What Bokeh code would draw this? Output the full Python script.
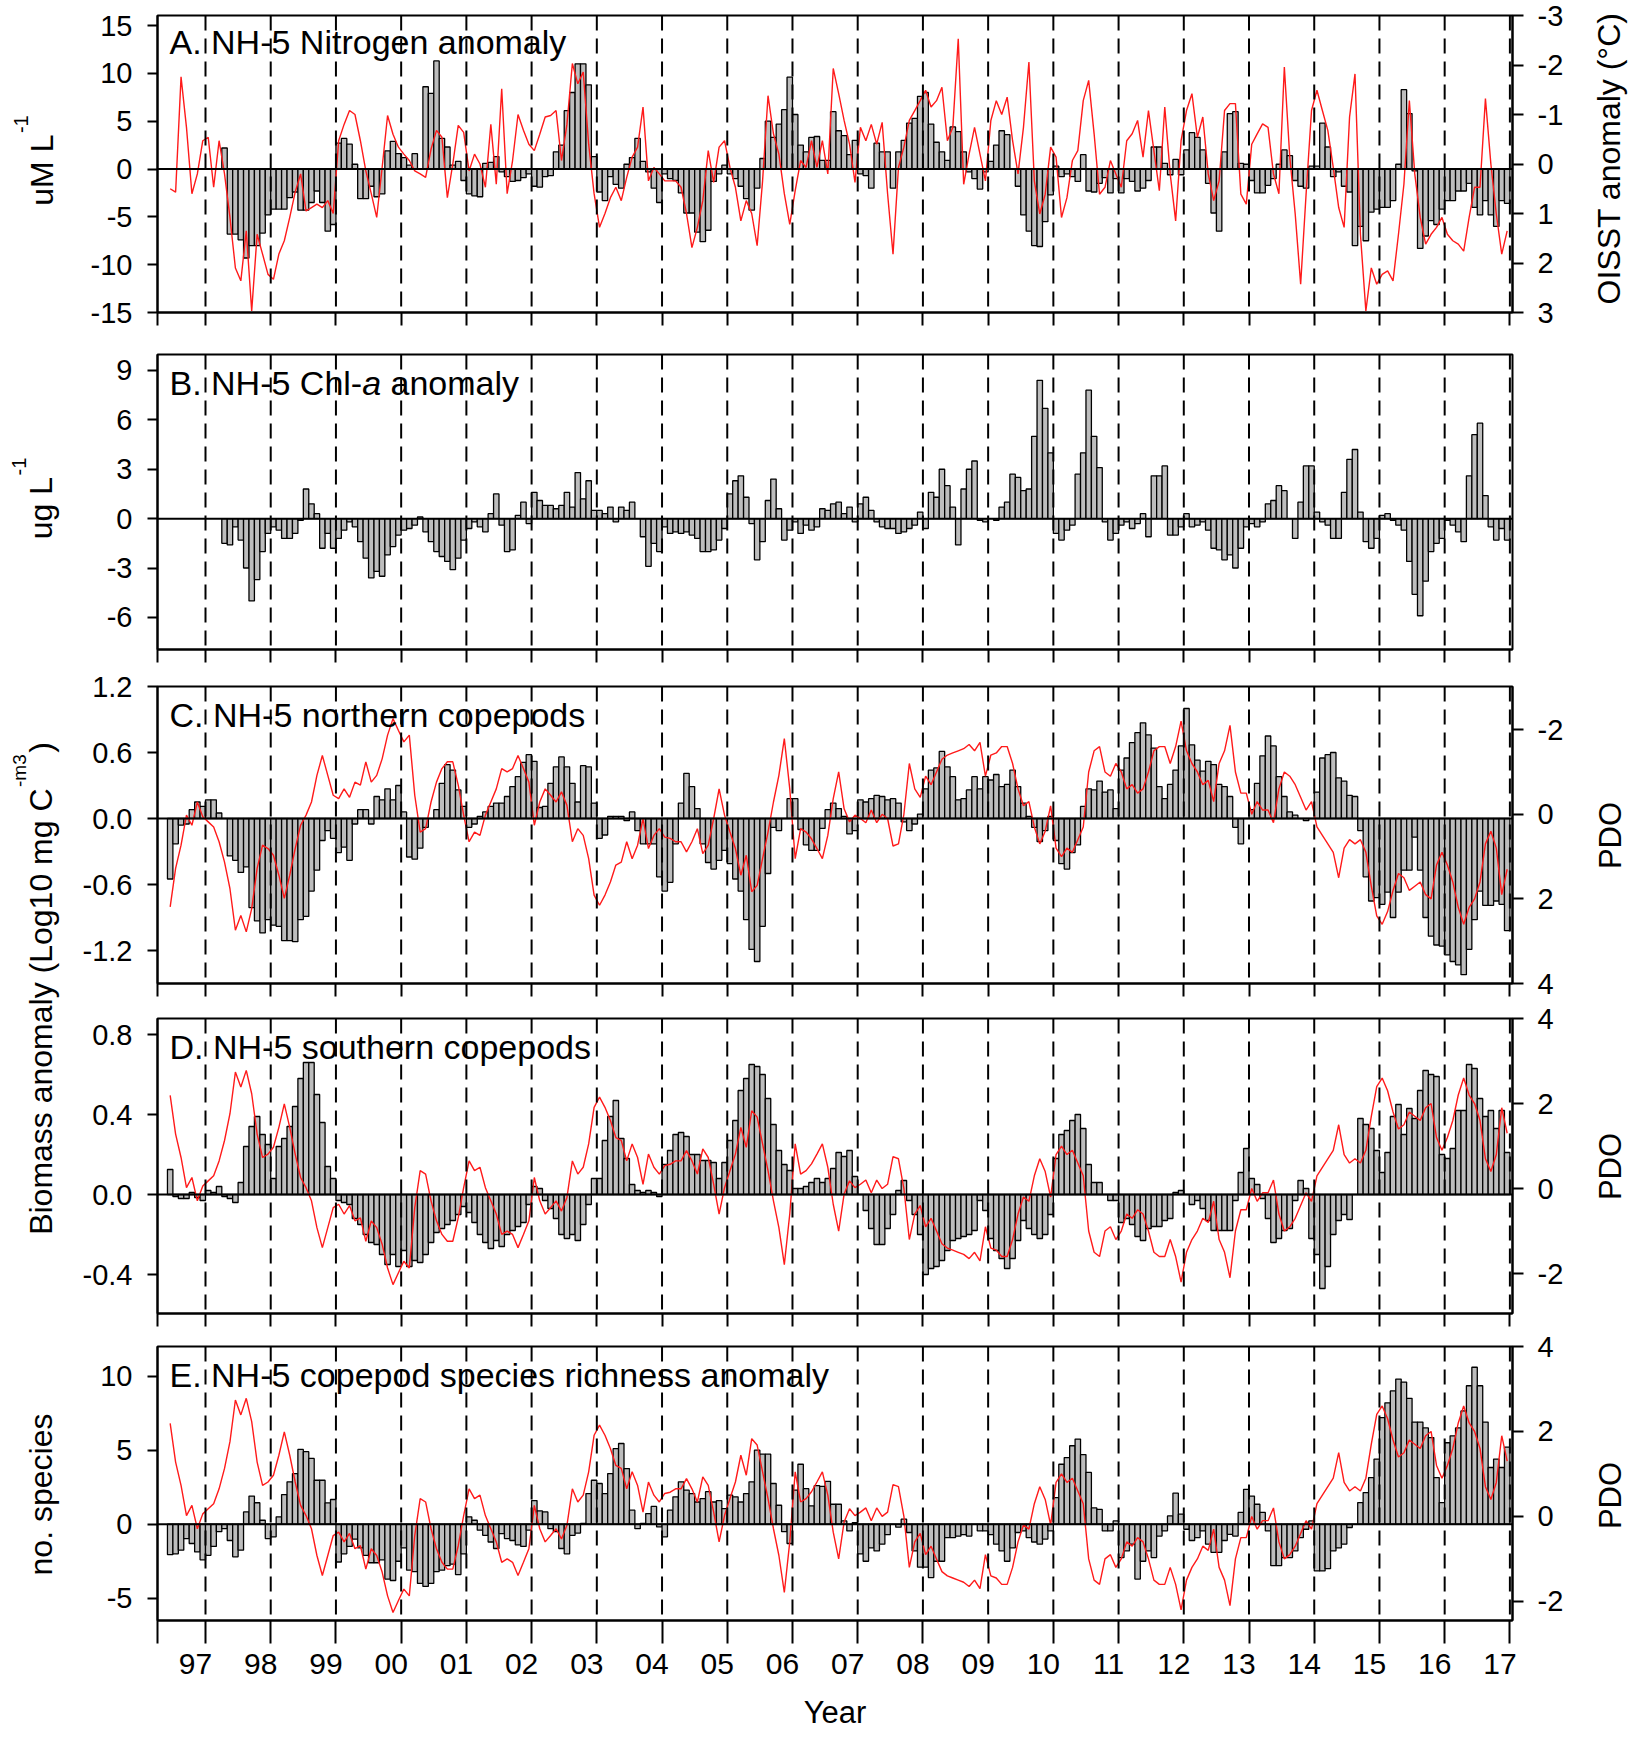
import math
from bokeh.plotting import figure
from bokeh.models import (Range1d, LinearAxis, FixedTicker, Span,
                          PrintfTickFormatter, CustomJSTickFormatter)
from bokeh.layouts import row, column
from bokeh.core.properties import value
from bokeh.embed import file_html
from bokeh.resources import INLINE

# ---------------------------------------------------------------- data
YEARS = list(range(1997, 2018))
YEAR_LABELS = ["97", "98", "99", "00", "01", "02", "03", "04", "05", "06", "07",
               "08", "09", "10", "11", "12", "13", "14", "15", "16", "17"]

# A. NH-5 nitrogen anomaly (uM/L), monthly from Apr 1997
nitrogen = [
    2.2, -6.8, -6.8, -7.4, -9.3, -8.0, -8.0, -6.7, -4.8,
    -4.2, -4.2, -4.2, -3.0, -2.4, -4.3, -4.3, -3.5, -2.3, -3.5, -6.5, -5.8,
    2.7, 3.2, 2.6, 0.5, -3.1, -3.1, -1.8, -2.9, -2.6, 1.9, 2.9, 1.6,
    1.2, 0.4, 1.6, 0.0, 8.6, 7.9, 11.3, 3.2, 2.3, 0.4, 0.8, -1.2,
    -2.6, -2.8, -2.9, 0.6, 0.7, 1.3, -0.3, -0.8, -1.3, -1.2, -0.9, -0.5,
    -1.8, -1.9, -0.8, -0.7, 1.8, 2.5, 6.1, 8.0, 11.0, 11.0, 8.8, 1.3,
    -2.4, -3.3, -0.8, -1.6, -2.0, 0.5, 1.2, 3.2, 0.8, -0.3, -2.0, -3.5,
    -0.5, -1.0, -1.2, -2.5, -4.6, -4.6, -6.6, -7.6, -6.4, -1.3, -0.5, 0.4,
    -0.5, -1.0, -1.8, -3.1, -4.3, -2.0, 1.1, 5.0, 3.3, 4.7, 6.2, 9.6,
    5.7, 2.5, 1.8, 3.3, 3.4, 0.9, 0.9, 6.0, 4.0, 3.5, 1.5, 3.0,
    -0.5, -0.7, -2.0, 2.7, 1.8, 1.8, -2.0, 1.8, 3.0, 4.8, 5.3, 7.6,
    8.0, 4.7, 2.8, 1.8, 0.9, 4.4, 3.9, 1.8, -0.3, -1.0, -2.1, -0.3,
    0.8, 2.5, 4.0, 3.6, 0.0, -1.8, -4.8, -6.5, -8.0, -8.1, -5.5, -2.7,
    0.3, -0.8, -0.5, -0.8, -1.3, 1.5, -2.3, -2.4, -1.5, -0.9, -2.5, -1.0,
    -2.5, -1.0, -1.3, -2.3, -2.0, -1.2, 2.3, 2.3, 0.6, -0.6, 1.0, -0.6,
    2.0, 3.8, 3.3, 2.0, -1.5, -4.6, -6.5, 1.8, 5.8, 6.0, 0.6, 0.5,
    -1.2, -2.5, -2.5, -1.7, -1.0, 0.5, 2.0, 1.4, -1.2, -1.8, -2.0, 0.3,
    0.3, 4.8, 2.3, -0.8, -0.3, -1.8, -2.4, -8.0, -6.0, -7.5, -4.5, -4.2,
    -4.0, -4.0, -3.3, 0.5, 8.3, 5.8, -0.2, -8.3, -7.0, -5.4, -5.8, -4.2,
    -3.3, -3.3, -2.3, -2.3, -1.5, -4.0, -4.8, -3.3, -4.8, -6.0, -3.3, -3.6,
]

# OISST anomaly (deg C), monthly from Jun 1996
oisst = [
    0.5, 0.57, -1.76, -0.74, 0.6, 0.2, -0.47,
    -0.54, 0.47, -0.47, 0.2, 1.08, 2.1, 2.36, 1.35, 2.97, 1.42, 1.82, 2.23,
    2.33, 1.82, 1.55, 1.08, 0.57, 0.2, 0.95, 0.88, 0.81, 0.88, 0.74, 1.0,
    -0.47, -0.8, -1.08, -1.0, -0.47, 0.14, 0.6, 1.08, 0.07, -0.98, -0.6, -0.34,
    -0.2, -0.07, 0.14, 0.2, 0.27, -0.3, -0.68, -0.54, 0.68, 0.0, -0.78, -0.64,
    0.14, -0.2, 0.0, 0.47, -0.8, 0.41, -1.52, 0.6, -0.07, -1.0, -0.68, -0.4,
    -0.27, -0.6, -0.95, -0.98, -1.08, -0.07, -0.8, -2.03, -1.62, -1.86, -0.4, 0.6,
    1.28, 1.0, 0.68, 0.47, 0.74, 0.27, -0.14, -0.34, -1.15, 0.34, 0.07, 0.2,
    0.34, 0.34, 0.34, 0.47, 1.0, 1.69, 1.28, 0.74, -0.27, 0.37, -0.34, -0.47,
    0.07, 0.47, 1.15, 0.74, 1.0, 1.65, 0.34, -1.38, -0.61, -0.2, 0.6, 1.22,
    0.54, -0.07, 0.07, -0.47, 0.07, -0.47, 0.2, -1.93, -1.42, -0.88, -0.4, 0.37,
    -0.74, -0.47, -0.8, -0.4, -0.84, 0.6, 1.82, 0.07, -0.34, -0.88, -1.08, -1.28,
    -1.49, -1.15, -1.28, -1.55, -0.47, -0.74, -2.53, 0.41, -0.2, -0.74, -0.2, 0.34,
    -0.88, -1.28, -1.0, -1.35, -0.47, 0.2, -0.74, -2.06, 0.34, 1.01, 0.61, -0.34,
    -0.14, 1.08, 0.68, -0.07, -0.27, -1.28, -1.69, -0.61, 0.61, 0.47, -0.07, 0.2,
    0.47, -0.47, -0.61, -0.88, -0.14, -1.08, -0.27, 0.54, -1.15, 0.2, 1.15, -0.47,
    -1.08, -1.42, -0.54, -0.95, 0.2, 0.74, 0.34, -1.08, -1.22, -1.22, 0.61, 0.81,
    -0.4, -0.61, -0.81, -0.74, 0.2, 0.6, -1.96, -0.14, 1.01, 2.43, 0.61, -1.08,
    -1.49, -1.08, -0.68, 0.07, 0.88, 1.28, -0.95, -1.82, 1.42, 2.97, 2.1, 2.43,
    2.23, 2.16, 2.36, 1.42, 0.41, -1.28, 0.2, 1.08, 1.62, 1.42, 1.28, 1.08,
    1.42, 1.55, 1.62, 1.76, 1.08, 0.47, 0.47, -1.32, 0.0, 1.01, 1.82, 1.35,
]

# B. NH-5 Chl-a anomaly (ug/L), monthly from Apr 1997
chla = [
    -1.5, -1.6, -0.5, -1.3, -3.0, -5.0, -3.7, -2.0, -0.9,
    -0.5, -0.7, -1.2, -1.2, -0.9, -0.1, 1.8, 0.9, 0.3, -1.8, -0.9, -1.8,
    -1.2, -0.7, -0.2, -0.5, -1.4, -2.4, -3.6, -3.2, -3.5, -2.2, -1.7, -1.0,
    -0.7, -0.6, -0.4, 0.1, -0.8, -1.4, -2.0, -2.3, -2.6, -3.1, -2.4, -1.3,
    -0.6, -0.2, -0.5, -0.8, 0.3, 1.5, -0.4, -2.0, -1.9, 0.2, 1.0, -0.3,
    1.6, 1.1, 0.8, 0.8, 0.6, 0.8, 1.6, 0.7, 2.8, 1.2, 2.3, 0.5,
    0.5, 0.3, 0.7, -0.2, 0.7, 0.5, 1.0, 0.0, -1.1, -2.9, -1.5, -2.0,
    -0.5, -0.9, -0.8, -0.9, -0.8, -1.0, -1.2, -2.0, -2.0, -1.9, -1.3, -0.6,
    1.5, 2.3, 2.6, 1.3, -0.3, -2.5, -1.4, 1.1, 2.4, 0.6, -1.3, -0.7,
    -0.2, -0.9, -0.4, -0.7, -0.5, 0.6, 0.5, 0.9, 1.0, 0.3, 0.7, -0.2,
    0.9, 1.3, 0.5, -0.2, -0.5, -0.6, -0.6, -0.9, -0.8, -0.6, -0.4, 0.4,
    -0.6, 1.6, 1.3, 3.0, 2.0, 0.7, -1.6, 1.8, 3.0, 3.5, -0.1, -0.2,
    0.0, -0.1, 0.7, 1.0, 2.7, 2.5, 1.7, 1.8, 5.0, 8.4, 6.7, 4.0,
    -0.9, -1.3, -0.7, -0.4, 2.7, 4.0, 7.8, 5.0, 3.1, -0.2, -1.3, -0.9,
    -0.4, -0.2, -0.6, -0.3, 0.3, -1.1, 2.6, 2.6, 3.2, -1.0, -1.0, -0.5,
    0.3, -0.5, -0.4, -0.2, -0.7, -1.8, -1.9, -2.5, -2.2, -3.0, -1.8, -0.5,
    -0.3, -0.5, -0.2, 0.9, 1.1, 2.0, 1.7, 0.0, -1.2, 1.0, 3.2, 3.2,
    0.4, -0.2, -0.4, -1.2, -1.2, 1.6, 3.6, 4.2, 0.4, -1.4, -1.8, -1.2,
    0.2, 0.3, -0.1, -0.4, -0.7, -2.6, -4.6, -5.9, -3.8, -2.0, -1.5, -1.2,
    -0.1, -0.4, -0.8, -1.4, 2.6, 5.1, 5.8, 1.4, -0.5, -1.3, -0.6, -1.3,
]

# C. NH-5 northern copepods biomass anomaly, monthly from Jun 1996
northern = [
    -0.55, -0.23, -0.06, -0.05, 0.08, 0.15, 0.11,
    0.17, 0.17, 0.05, 0.0, -0.34, -0.38, -0.49, -0.44, -0.81, -0.93, -1.04, -0.92,
    -0.97, -0.98, -1.11, -1.11, -1.12, -0.92, -0.89, -0.66, -0.47, -0.2, -0.11, -0.18,
    -0.31, -0.26, -0.38, -0.05, 0.08, 0.08, -0.05, 0.2, 0.17, 0.27, 0.17, 0.3,
    0.06, -0.35, -0.37, -0.27, -0.08, 0.0, 0.08, 0.32, 0.49, 0.44, 0.26, 0.11,
    -0.08, -0.05, 0.02, 0.06, 0.11, 0.14, 0.14, 0.2, 0.29, 0.38, 0.51, 0.58,
    0.52, 0.1, 0.11, 0.32, 0.47, 0.56, 0.47, 0.32, 0.15, 0.48, 0.47, 0.14,
    -0.18, -0.15, 0.02, 0.02, 0.02, -0.02, 0.06, -0.11, -0.23, -0.23, -0.23, -0.53,
    -0.66, -0.58, -0.23, 0.14, 0.41, 0.29, 0.09, -0.23, -0.4, -0.46, -0.38, -0.29,
    -0.41, -0.55, -0.66, -0.92, -1.19, -1.3, -0.98, -0.5, -0.08, -0.11, 0.0, 0.18,
    0.18, -0.1, -0.24, -0.29, -0.29, -0.09, 0.08, 0.14, 0.09, 0.02, -0.14, -0.11,
    0.17, 0.15, 0.18, 0.21, 0.2, 0.17, 0.18, 0.14, -0.03, -0.11, -0.05, 0.04,
    0.27, 0.44, 0.46, 0.61, 0.47, 0.38, 0.17, 0.18, 0.26, 0.38, 0.27, 0.38,
    0.35, 0.4, 0.29, 0.31, 0.44, 0.29, 0.14, 0.02, -0.08, -0.21, -0.11, 0.02,
    -0.2, -0.41, -0.46, -0.31, -0.24, 0.11, 0.27, 0.26, 0.34, 0.24, 0.26, 0.09,
    0.44, 0.55, 0.69, 0.78, 0.87, 0.76, 0.64, 0.29, 0.18, 0.31, 0.44, 0.66,
    1.0, 0.67, 0.53, 0.43, 0.52, 0.49, 0.31, 0.29, 0.2, -0.08, -0.23, 0.0,
    0.08, 0.32, 0.57, 0.75, 0.66, 0.38, 0.2, 0.06, 0.03, 0.0, -0.02, 0.0,
    0.24, 0.55, 0.58, 0.6, 0.37, 0.34, 0.21, 0.2, -0.11, -0.53, -0.75, -0.72,
    -0.78, -0.67, -0.9, -0.67, -0.47, -0.47, -0.17, -0.47, -0.9, -1.07, -1.15, -1.16,
    -1.24, -1.3, -1.33, -1.42, -1.19, -0.92, -0.66, -0.79, -0.79, -0.75, -0.78, -1.02,
]

# D. NH-5 southern copepods biomass anomaly, monthly from Jun 1996
southern = [
    0.125, -0.01, -0.02, -0.02, 0.01, -0.015, -0.03,
    0.02, 0.01, 0.04, -0.01, -0.02, -0.04, 0.06, 0.24, 0.34, 0.39, 0.3, 0.25,
    0.08, 0.24, 0.28, 0.34, 0.44, 0.58, 0.66, 0.66, 0.5, 0.36, 0.14, 0.08,
    -0.03, -0.04, -0.05, -0.12, -0.15, -0.2, -0.24, -0.25, -0.3, -0.35, -0.3, -0.36,
    -0.28, -0.36, -0.33, -0.34, -0.3, -0.24, -0.19, -0.17, -0.15, -0.13, -0.1, -0.06,
    -0.09, -0.14, -0.2, -0.24, -0.27, -0.23, -0.26, -0.2, -0.18, -0.16, -0.14, -0.05,
    0.04, 0.03, -0.03, -0.07, -0.12, -0.2, -0.22, -0.2, -0.23, -0.15, -0.05, 0.08,
    0.08, 0.27, 0.39, 0.47, 0.28, 0.18, 0.05, 0.02, 0.01, 0.02, 0.01, -0.01,
    0.15, 0.22, 0.3, 0.31, 0.29, 0.2, 0.2, 0.17, 0.17, 0.16, 0.08, 0.16,
    0.27, 0.37, 0.52, 0.58, 0.65, 0.64, 0.6, 0.48, 0.35, 0.22, 0.15, 0.12,
    0.03, 0.03, 0.04, 0.06, 0.08, 0.06, 0.08, 0.13, 0.21, 0.19, 0.22, 0.09,
    0.0, -0.08, -0.17, -0.25, -0.25, -0.17, -0.1, 0.02, 0.07, -0.03, -0.1, -0.2,
    -0.4, -0.37, -0.36, -0.33, -0.28, -0.23, -0.22, -0.21, -0.2, -0.18, -0.03, -0.08,
    -0.22, -0.28, -0.32, -0.37, -0.32, -0.23, -0.13, -0.17, -0.2, -0.22, -0.2, -0.1,
    0.18, 0.3, 0.32, 0.37, 0.4, 0.33, 0.15, 0.06, 0.06, 0.0, -0.03, -0.03,
    -0.14, -0.12, -0.15, -0.21, -0.23, -0.17, -0.16, -0.16, -0.13, -0.12, 0.01, 0.02,
    0.0, -0.05, -0.03, -0.07, -0.13, -0.18, -0.18, -0.18, -0.18, -0.03, 0.11, 0.23,
    0.08, 0.05, -0.02, -0.12, -0.24, -0.22, -0.18, -0.17, -0.03, 0.07, 0.03, -0.22,
    -0.3, -0.47, -0.36, -0.2, -0.13, -0.1, -0.125, 0.0, 0.38, 0.35, 0.33, 0.22,
    0.11, 0.21, 0.39, 0.45, 0.3, 0.43, 0.38, 0.52, 0.62, 0.6, 0.59, 0.2,
    0.18, 0.23, 0.42, 0.42, 0.65, 0.63, 0.48, 0.39, 0.42, 0.33, 0.42, 0.21,
]

# E. NH-5 copepod species richness anomaly, monthly from Jun 1996
richness = [
    -2.05, -2.0, -1.75, -0.97, -1.3, -1.87, -2.4,
    -2.1, -1.5, -0.5, -0.3, -1.1, -2.2, -1.75, 0.83, 1.9, 1.45, 0.27, -0.97,
    -0.85, 0.5, 2.0, 2.86, 3.42, 5.05, 4.9, 4.44, 2.97, 2.97, 1.44, 1.67,
    -2.55, -2.0, -1.5, -1.0, -1.6, -2.1, -2.6, -2.6, -2.4, -3.7, -3.8, -2.5,
    -1.6, -3.1, -3.2, -4.0, -4.2, -4.0, -3.2, -3.1, -2.8, -2.7, -3.4, -2.0,
    0.5, 0.27, -0.4, -0.75, -1.2, -1.64, -0.63, -0.97, -1.1, -1.4, -1.5, -0.4,
    1.6, 0.9, 0.83, -0.3, -0.5, -1.64, -2.0, -0.75, -0.6, 0.05, 2.07, 2.97,
    2.75, 2.07, 3.42, 5.1, 5.45, 3.76, 0.95, -0.3, 0.05, 0.72, 1.2, -0.18,
    -0.85, 0.95, 1.85, 2.86, 2.3, 2.07, 1.5, 1.73, 2.2, 1.5, 1.6, 1.05,
    1.96, 1.85, 1.5, 2.07, 2.86, 5.0, 4.73, 4.73, 2.75, 1.28, -0.5, -1.3,
    2.3, 4.05, 2.4, 1.24, 2.6, 2.55, 2.9, 1.35, 1.35, 0.22, -0.45, 0.1,
    -2.0, -2.5, -1.6, -1.8, -1.35, -0.7, 0.0, -0.2, 0.34, -0.56, -1.8, -2.9,
    -2.9, -3.6, -2.5, -2.5, -0.9, -0.9, -0.8, -0.7, -0.8, 0.0, -0.45, -0.45,
    -0.7, -1.35, -1.8, -2.5, -1.6, -0.56, -0.45, -0.9, -1.2, -1.35, -1.0, -0.45,
    1.8, 4.05, 4.5, 5.3, 5.75, 4.7, 3.5, 1.1, 1.0, -0.45, -0.45, 0.22,
    -2.25, -1.8, -1.35, -3.7, -2.5, -1.8, -2.25, -0.8, -0.45, 0.56, 2.1, 0.68,
    -0.34, -1.1, -0.9, -0.45, -1.35, -1.9, -1.9, -1.1, -0.68, -0.8, 0.8, 2.36,
    1.9, 1.35, 0.8, -0.45, -2.8, -2.8, -2.25, -2.25, -1.8, -0.9, -0.34, 0.22,
    -3.15, -3.15, -3.0, -1.8, -1.6, -1.35, -0.22, 0.0, 1.46, 2.14, 3.15, 4.4,
    7.2, 8.2, 9.0, 9.8, 9.6, 8.5, 6.9, 6.9, 6.5, 5.85, 3.15, 1.46,
    5.5, 5.97, 6.5, 7.65, 9.35, 10.6, 9.35, 6.9, 3.83, 4.4, 3.83, 5.2,
]

# PDO index, monthly from Jun 1996
pdo = [
    2.19, 1.28, 0.73, 0.02, 0.26, -0.29, 0.06,
    0.18, 0.3, 0.65, 1.13, 1.76, 2.74, 2.39, 2.78, 2.23, 1.28, 0.73, 0.81,
    0.97, 1.44, 1.99, 1.44, 0.81, 0.26, 0.02, -0.29, -0.92, -1.39, -0.92, -0.45,
    -0.37, -0.6, -0.4, -0.76, -0.69, -1.24, -0.76, -0.92, -1.31, -1.87, -2.26, -1.98,
    -1.71, -1.87, -0.45, 0.42, 0.34, -0.29, -0.76, -1.08, -1.24, -1.24, -0.69, 0.02,
    0.65, 0.42, 0.5, 0.02, -0.29, -0.6, -1.08, -1.0, -1.08, -1.39, -1.08, -0.76,
    0.26, -0.29, -0.6, -0.45, -0.29, -0.53, -0.21, 0.65, 0.34, 0.5, 1.05, 1.91,
    2.15, 1.91, 1.6, 1.2, 1.13, 0.65, 1.05, 0.73, 0.1, 0.81, 0.5, 0.34,
    0.54, 0.57, 0.65, 0.65, 0.89, 0.65, 0.34, 0.93, 0.73, 0.1, -0.6, 0.02,
    0.42, 0.81, 1.44, 0.97, 1.83, 1.68, 1.05, 0.42, -0.29, -0.92, -1.79, -0.6,
    1.05, 0.34, 0.42, 0.58, 0.81, 1.05, 0.5, -0.37, -1.0, -0.13, 0.18, 0.02,
    0.1, 0.2, -0.1, 0.2, 0.0, 0.1, 0.75, 0.7, 0.0, -1.2, -0.6, -0.4,
    -0.9, -0.7, -1.0, -1.3, -1.4, -1.45, -1.5, -1.55, -1.65, -1.5, -1.7, -0.9,
    -1.4, -1.45, -1.6, -1.6, -1.2, -0.6, -0.2, -0.3, 0.3, 0.7, 0.4, -0.2,
    0.8, 1.0, 0.8, 0.9, 0.6, 0.3, -1.0, -1.5, -1.6, -1.0, -0.9, -1.2,
    -1.0, -0.6, -0.7, -0.5, -0.6, -1.0, -1.5, -1.6, -1.6, -1.2, -1.6, -2.2,
    -1.5, -1.2, -1.0, -0.7, -0.8, -0.3, -1.2, -1.5, -2.1, -1.0, -0.5, -0.5,
    0.0, -0.3, -0.1, -0.1, 0.2, -0.6, -1.0, -0.9, -0.7, -0.4, -0.1, -0.3,
    0.3, 0.5, 0.7, 0.9, 1.5, 0.8, 0.6, 0.7, 0.6, 0.9, 1.7, 2.4,
    2.6, 2.3, 1.8, 1.4, 1.5, 1.8, 1.7, 1.6, 1.9, 2.0, 1.2, 0.9,
    1.2, 1.6, 2.2, 2.6, 2.2, 2.0, 1.6, 0.7, 0.4, 0.8, 1.9, 1.3,
]

TITLES = ["A. NH-5 Nitrogen anomaly", "B. NH-5 Chl-", "a", "anomaly",
          "C. NH-5 northern copepods", "D. NH-5 southern copepods",
          "E. NH-5 copepod species richness anomaly"]

# ---------------------------------------------------------------- layout
FONT = "Liberation Sans"
X0, X1 = 1996.264, 2017.04
FRAME_W = 1355
PX_PER_YR = FRAME_W / (X1 - X0)
LABEL_SHIFT = 0.153
BAR_FILL = "#bdbdbd"
RED = "#ff1a1a"
PAGE_H = 1740
MID = 0.3465   # em offset from baseline to middle of the text box

ADV = {' ': .278, '-': .333, '.': .278, '(': .333, ')': .333, '\u00b0': .4,
       'A': .667, 'B': .667, 'C': .722, 'D': .722, 'E': .667, 'H': .722,
       'I': .278, 'L': .556, 'M': .833, 'N': .722, 'O': .778, 'P': .667,
       'S': .667, 'T': .611, 'a': .556, 'c': .5, 'd': .556, 'e': .556,
       'g': .556, 'h': .556, 'i': .222, 'l': .222, 'm': .833, 'n': .556,
       'o': .556, 'p': .556, 'r': .333, 's': .5, 't': .278, 'u': .556, 'y': .5}


def tw(s, size):
    return sum(ADV.get(c, 0.556) for c in s) * size


def months(start_year, start_month, n):
    return [start_year + (start_month - 1 + i + 0.5) / 12.0 for i in range(n)]


def style_axis(ax, size="29px"):
    ax.axis_line_width = 2
    ax.axis_line_color = "black"
    ax.major_tick_line_width = 2
    ax.major_tick_line_color = "black"
    ax.major_tick_in = 0
    ax.minor_tick_line_color = None
    ax.major_label_text_font = FONT
    ax.major_label_text_font_size = size
    ax.major_label_text_color = "black"


def make_panel(height, tb, bb, yr, lticks, lfmt="%d", last=False):
    p = figure(width=1520, height=height, x_range=Range1d(X0, X1),
               y_range=Range1d(*yr), output_backend="svg",
               toolbar_location=None, min_border_left=92,
               min_border_right=73, min_border_top=tb, min_border_bottom=bb)
    p.grid.visible = False
    p.outline_line_color = "black"
    p.outline_line_width = 2
    p.outline_line_alpha = 1
    p.background_fill_color = "white"
    p.border_fill_color = "white"
    ya = p.yaxis[0]
    ya.ticker = FixedTicker(ticks=lticks)
    style_axis(ya)
    ya.major_tick_out = 10
    ya.major_label_standoff = 15
    ya.formatter = PrintfTickFormatter(format=lfmt)
    xa = p.xaxis[0]
    style_axis(xa, "30px")
    if not last:
        xa.ticker = FixedTicker(ticks=[X0] + YEARS)
        xa.major_tick_out = 13
        xa.major_label_text_font_size = "1px"
        xa.major_label_text_color = None
        xa.major_label_standoff = 0
        xa.formatter = CustomJSTickFormatter(code="return '';")
    else:
        xa.ticker = FixedTicker(ticks=[y - LABEL_SHIFT for y in YEARS],
                                minor_ticks=[X0] + YEARS)
        xa.major_tick_out = 0
        xa.major_tick_line_color = None
        xa.minor_tick_out = 23
        xa.minor_tick_in = 0
        xa.minor_tick_line_color = "black"
        xa.minor_tick_line_width = 2
        xa.formatter = CustomJSTickFormatter(
            args=dict(labels=YEAR_LABELS, first=YEARS[0], shift=LABEL_SHIFT),
            code="const i = Math.round(tick + shift) - first;"
                 "return (i >= 0 && i < labels.length) ? labels[i] : '';")
        xa.major_label_standoff = 10
        xa.axis_label = "Year"
        xa.axis_label_text_font = FONT
        xa.axis_label_text_font_size = "31px"
        xa.axis_label_text_font_style = "normal"
        xa.axis_label_text_color = "black"
        xa.axis_label_standoff = 18
    for y in YEARS:
        p.add_layout(Span(location=y, dimension="height", line_color="black",
                          line_width=2, line_dash="15 8"))
    p.add_layout(Span(location=0, dimension="width", line_color="black",
                      line_width=2))
    return p


def add_right(p, rng, ticks):
    p.extra_y_ranges = {"r": Range1d(*rng)}
    ax = LinearAxis(y_range_name="r", ticker=FixedTicker(ticks=ticks))
    style_axis(ax)
    ax.formatter = PrintfTickFormatter(format="%d")
    ax.major_tick_out = 11
    ax.major_label_standoff = 14
    p.add_layout(ax, "right")


def bars(p, xs, vals):
    p.vbar(x=xs, top=vals, bottom=0, width=1 / 12.0, fill_color=BAR_FILL,
           line_color="black", line_width=1.3)


def red_line(p, xs, vals):
    p.line(xs, vals, y_range_name="r", line_color=RED, line_width=1.4)


def title(p, yr, frame_h, d_px, parts):
    # d_px: distance of the text middle below the frame top
    top, bot = yr[1], yr[0]
    ty = top - d_px * (top - bot) / frame_h
    xpx = 12.0
    for text, style, adv in parts:
        p.text(x=[X0 + xpx / PX_PER_YR], y=[ty], text=[text],
               text_font=value(FONT), text_font_size="34px",
               text_font_style=style, text_baseline="middle",
               text_align="left", text_color="black")
        xpx += adv


x_bio = months(1996, 6, len(northern))
x_nut = months(1997, 4, len(nitrogen))
x_sst = months(1996, 6, len(oisst))
x_pdo = months(1996, 6, len(pdo))

# A
yrA = (-15, 16.05)
pA = make_panel(333, 15, 21, yrA, [-15, -10, -5, 0, 5, 10, 15])
add_right(pA, (3, -3), [-3, -2, -1, 0, 1, 2, 3])
bars(pA, x_nut, nitrogen)
red_line(pA, x_sst, oisst)
title(pA, yrA, 297, 26, [(TITLES[0], "normal", 0)])

# B
yrB = (-7.95, 9.97)
pB = make_panel(333, 21, 17, yrB, [-6, -3, 0, 3, 6, 9])
bars(pB, months(1997, 4, len(chla)), chla)
wb1 = tw(TITLES[1], 34)
wb2 = tw(TITLES[2] + " ", 34)
title(pB, yrB, 295, 28, [(TITLES[1], "normal", wb1), (TITLES[2], "italic", wb2),
                         (TITLES[3], "normal", 0)])

# C
yrC = (-1.5, 1.2)
pC = make_panel(334, 20, 17, yrC, [-1.2, -0.6, 0.0, 0.6, 1.2], "%.1f")
add_right(pC, (4, -3.02), [-2, 0, 2, 4])
bars(pC, x_bio, northern)
red_line(pC, x_pdo, pdo)
title(pC, yrC, 297, 28, [(TITLES[4], "normal", 0)])

# D
yrD = (-0.595, 0.88)
pD = make_panel(332, 18, 19, yrD, [-0.4, 0.0, 0.4, 0.8], "%.1f")
add_right(pD, (-2.94, 4), [-2, 0, 2, 4])
bars(pD, x_bio, southern)
red_line(pD, x_pdo, pdo)
title(pD, yrD, 295, 28, [(TITLES[5], "normal", 0)])

# E
yrE = (-6.5, 12.0)
pE = make_panel(408, 14, 120, yrE, [-5, 0, 5, 10], last=True)
add_right(pE, (-2.45, 4), [-2, 0, 2, 4])
bars(pE, x_bio, richness)
red_line(pE, x_pdo, pdo)
title(pE, yrE, 274, 28, [(TITLES[6], "normal", 0)])


# ---------------------------------------------------------------- side labels
def side_fig(x0, x1):
    f = figure(width=int(x1 - x0), height=PAGE_H, x_range=Range1d(x0, x1),
               y_range=Range1d(PAGE_H, 0), output_backend="svg",
               toolbar_location=None, min_border=0,
               x_axis_location=None, y_axis_location=None)
    f.grid.visible = False
    f.outline_line_color = None
    f.background_fill_color = "white"
    f.border_fill_color = "white"
    return f


def stacked_label(f, parts, cy):
    # parts: (text, font px, baseline x); text reads bottom-to-top
    gap = 1.5
    widths = [tw(t, s) for t, s, _ in parts]
    total = sum(widths) + gap * (len(parts) - 1)
    y = cy + total / 2.0
    for (t, s, bx), w in zip(parts, widths):
        f.text(x=[bx - MID * s], y=[y], text=[t], angle=math.pi / 2,
               text_align="left", text_baseline="middle",
               text_font=value(FONT), text_font_size=f"{s}px",
               text_color="black")
        y -= w + gap


left = side_fig(0, 65)
stacked_label(left, [("uM L", 32, 53), ("-1", 20, 27)], 160)
stacked_label(left, [("ug L", 32, 52), ("-1", 20, 25)], 498)
stacked_label(left, [("Biomass anomaly (Log10 mg C", 32, 52), ("-m3", 19, 26),
                     (")", 32, 52)], 988)
stacked_label(left, [("no. species", 32, 52)], 1494)

right = side_fig(1585, 1629)
stacked_label(right, [("OISST anomaly (\u00b0C)", 32, 1620)], 158)
for cy in (835, 1166, 1495):
    stacked_label(right, [("PDO", 31, 1621)], cy)

layout = row(left, column(pA, pB, pC, pD, pE), right)
open("out.html", "w").write(file_html(layout, INLINE))
